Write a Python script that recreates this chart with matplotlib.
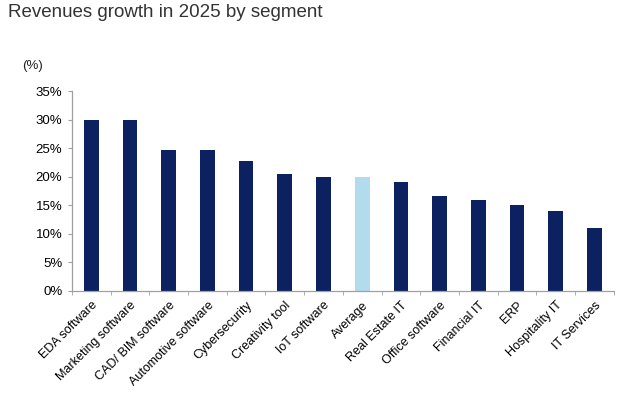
import numpy as np
import matplotlib.pyplot as plt
from matplotlib.ticker import FuncFormatter, MultipleLocator
from matplotlib.transforms import ScaledTranslation

plt.rcParams['font.family'] = ['Liberation Sans', 'DejaVu Sans']

segments = ["EDA software", "Marketing software", "CAD/ BIM software", "Automotive software",
            "Cybersecurity", "Creativity tool", "IoT software", "Average", "Real Estate IT",
            "Office software", "Financial IT", "ERP", "Hospitality IT", "IT Services"]
growth = [30.0, 30.0, 24.7, 24.7, 22.8, 20.5, 20.0, 20.0, 19.0, 16.7, 16.0, 15.0, 14.0, 11.0]

navy = "#0b2160"
light = "#b3dbee"
colors = [light if s == "Average" else navy for s in segments]

fig = plt.figure(figsize=(6.32, 3.98), dpi=100)
ax = fig.add_axes([0.114, 0.269, 0.857, 0.502])

x = np.arange(len(segments))
ax.bar(x, growth, width=0.38, color=colors, zorder=2)

ax.set_xlim(-0.5, len(segments) - 0.5)
ax.set_ylim(0, 35)
ax.yaxis.set_major_locator(MultipleLocator(5))
ax.yaxis.set_major_formatter(FuncFormatter(lambda v, p: f"{v:.0f}%"))

ax.set_xticks(x)
ax.set_xticklabels(segments, rotation=45, ha="right", rotation_mode="anchor", fontsize=9)
# nudge rotated labels slightly left, like the reference
shift = ScaledTranslation(-3 / 72, 0, fig.dpi_scale_trans)
for lbl in ax.get_xticklabels():
    lbl.set_transform(lbl.get_transform() + shift)
ax.set_xticks(np.arange(-0.5, len(segments)), minor=True)
ax.tick_params(axis="x", which="major", length=0, pad=6)
ax.tick_params(axis="x", which="minor", length=3, color="#a0a0a0", direction="out")
ax.tick_params(axis="y", labelsize=9.5, length=3, color="#a0a0a0", pad=4)

for s in ["top", "right"]:
    ax.spines[s].set_visible(False)
for s in ["left", "bottom"]:
    ax.spines[s].set_color("#a0a0a0")
    ax.spines[s].set_linewidth(0.9)

fig.text(0.012, 0.968, "Revenues growth in 2025 by segment", fontsize=13.5,
         color="#333333", va="center", ha="left")
fig.text(0.035, 0.835, "(%)", fontsize=9.5, va="center", ha="left", color="#222222")

fig.savefig("out.png", dpi=100)
